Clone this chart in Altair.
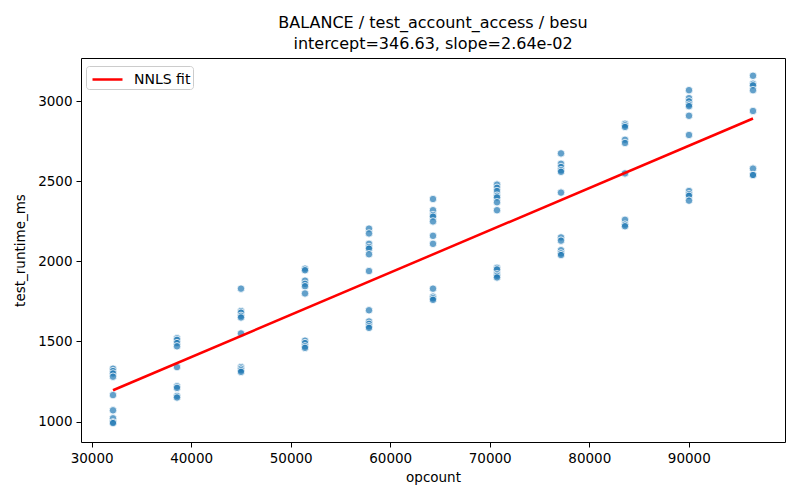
import altair as alt
import pandas as pd

opcounts = [32150, 38580, 45010, 51440, 57870, 64300, 70730, 77160, 83590, 90020, 96450]
runtimes = [
    [1330, 1315, 1300, 1280, 1165, 1070, 1020, 995, 990],
    [1520, 1510, 1490, 1470, 1340, 1220, 1210, 1160, 1150],
    [1830, 1690, 1680, 1660, 1650, 1550, 1340, 1330, 1320, 1310],
    [1955, 1945, 1880, 1860, 1845, 1800, 1505, 1490, 1470, 1460],
    [2205, 2175, 2110, 2090, 2080, 2045, 1940, 1695, 1625, 1610, 1595, 1585],
    [2390, 2320, 2290, 2280, 2250, 2160, 2110, 1830, 1780, 1770, 1760],
    [2480, 2460, 2440, 2410, 2400, 2370, 2320, 1960, 1950, 1920, 1910, 1900],
    [2675, 2610, 2590, 2570, 2560, 2430, 2150, 2130, 2070, 2050, 2040],
    [2860, 2850, 2840, 2760, 2740, 2550, 2260, 2230, 2220],
    [3070, 3020, 3000, 2980, 2970, 2910, 2790, 2440, 2420, 2410, 2380],
    [3160, 3110, 3100, 3070, 2940, 2580, 2540, 2540],
]
fit_x = [32150, 96450]
fit_y = [1195.4, 2892.9]
fit_label = "NNLS fit"

rows = []
for x, ys in zip(opcounts, runtimes):
    for y in ys:
        rows.append({"opcount": x, "test_runtime_ms": y})
pts = pd.DataFrame(rows)
fit = pd.DataFrame({"opcount": fit_x, "test_runtime_ms": fit_y, "series": [fit_label] * 2})

FONT = "DejaVu Sans"
xscale = alt.Scale(domain=[28935, 99665], nice=False, zero=False)
yscale = alt.Scale(domain=[872, 3271], nice=False, zero=False)
xaxis = alt.Axis(values=[30000, 40000, 50000, 60000, 70000, 80000, 90000], format="d",
                 grid=False, domain=False, tickColor="black", tickSize=5, labelPadding=4,
                 labelFont=FONT, labelFontSize=13.5, labelColor="black",
                 titleFont=FONT, titleFontSize=13.5, titleFontWeight="normal", titleColor="black",
                 titlePadding=6)
yaxis = alt.Axis(values=[1000, 1500, 2000, 2500, 3000], format="d",
                 grid=False, domain=False, tickColor="black", tickSize=5, labelPadding=4,
                 labelFont=FONT, labelFontSize=13.5, labelColor="black",
                 titleFont=FONT, titleFontSize=13.5, titleFontWeight="normal", titleColor="black",
                 titlePadding=10)

scatter = alt.Chart(pts).mark_point(
    filled=True, shape="circle", size=56, fill="#1f77b4", fillOpacity=0.7,
    stroke="white", strokeWidth=0.8, strokeOpacity=1
).encode(
    x=alt.X("opcount:Q", scale=xscale, axis=xaxis, title="opcount"),
    y=alt.Y("test_runtime_ms:Q", scale=yscale, axis=yaxis, title="test_runtime_ms"),
)

line = alt.Chart(fit).mark_line(strokeWidth=2.5).encode(
    x="opcount:Q",
    y="test_runtime_ms:Q",
    color=alt.Color("series:N", scale=alt.Scale(domain=[fit_label], range=["red"]),
                    legend=alt.Legend(title=None, orient="none", legendX=5, legendY=8,
                                      symbolType="M-0.7,0H2.3", symbolStrokeWidth=2.5,
                                      symbolSize=400, symbolFillColor="transparent",
                                      labelFont=FONT, labelFontSize=14, labelColor="black",
                                      strokeColor="#cccccc", fillColor="white", padding=2,
                                      cornerRadius=3, labelOffset=23)),
)

chart = (scatter + line).properties(
    width=704, height=384,
    title=alt.Title(["BALANCE / test_account_access / besu", "intercept=346.63, slope=2.64e-02"],
                    font=FONT, fontSize=16, fontWeight="normal", color="black",
                    anchor="middle", offset=6, lineHeight=21),
    padding={"left": 73, "top": 50, "right": 7, "bottom": 50},
    autosize=alt.AutoSizeParams(type="none"),
).configure_view(stroke="black", strokeWidth=1)

chart.save("out.html", embed_options={"renderer": "svg", "actions": False})
